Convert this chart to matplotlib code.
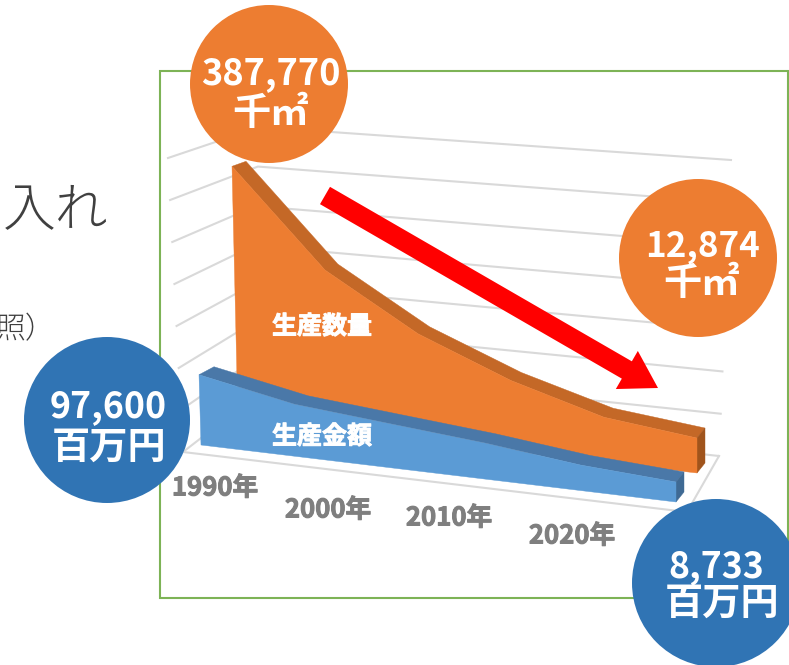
import numpy as np
import matplotlib
matplotlib.use("Agg")
import matplotlib.pyplot as plt
import matplotlib.patheffects as pe
from matplotlib.patches import Circle, Polygon, FancyArrow, Rectangle

plt.rcParams['font.family'] = ['Noto Sans CJK JP', 'DejaVu Sans']

# ---- data (on the drawn value axis) ----
points = [0, 1, 2, 3, 4, 5]
orange_values = [387770, 245200, 164000, 108800, 69000, 53600]
blue_values = [107300, 79700, 67400, 55200, 39100, 30650]
year_labels = ['1990年', '2000年', '2010年', '2020年']
orange_name = '生産数量'
blue_name = '生産金額'
callout_numbers = ['387,770', '12,874', '97,600', '8,733']
callout_units = ['千㎡', '千㎡', '百万円', '百万円']

# ---- colours ----
ORANGE, ORANGE_TOP, ORANGE_SIDE = '#ED7D31', '#C46827', '#A0541C'
BLUE, BLUE_TOP, BLUE_SIDE = '#5B9BD5', '#4A78A8', '#3F6A94'
CIRCLE_BLUE = '#3074B4'
GRID = '#D9D9D9'

fig = plt.figure(figsize=(7.89, 6.65), dpi=100)
ax = fig.add_axes([0, 0, 1, 1])
ax.set_xlim(0, 789)
ax.set_ylim(665, 0)
ax.axis('off')

# frame
ax.add_patch(Rectangle((160, 71), 628, 527, fill=False, ec='#7DB356', lw=1.5, zorder=1))

# wall / floor gridlines
LEVELS = 8
outer = np.column_stack([np.linspace(183, 168, LEVELS), np.linspace(452, 158, LEVELS)])
inner = np.column_stack([np.linspace(245, 260, LEVELS), np.linspace(404, 127, LEVELS)])
right = np.column_stack([np.linspace(719, 731, LEVELS), np.linspace(456, 160, LEVELS)])
for a, b, c in zip(outer, inner, right):
    ax.plot([a[0], b[0], c[0]], [a[1], b[1], c[1]], color=GRID, lw=1.5, zorder=2,
            solid_joinstyle='miter')
ax.plot([183, 687, 719], [452, 512, 456], color=GRID, lw=1.5, zorder=2)

PX_PER_UNIT = 253 / 387770


def draw_series(values, top_x, base_x, base_y, off0, off1, front, top, side, z):
    t = np.asarray(points, float) / points[-1]
    v = np.asarray(values, float)
    x_top = top_x[0] + (top_x[1] - top_x[0]) * t
    bx = base_x[0] + (base_x[1] - base_x[0]) * t
    by = base_y[0] + (base_y[1] - base_y[0]) * t
    y_top = (base_y[0] + (base_y[1] - base_y[0]) * (x_top - base_x[0]) / (base_x[1] - base_x[0])
             - v * PX_PER_UNIT)
    dx = off0[0] + (off1[0] - off0[0]) * t
    dy = off0[1] + (off1[1] - off0[1]) * t
    # top ribbon
    ribbon = np.r_[np.column_stack([x_top, y_top]),
                   np.column_stack([x_top + dx, y_top + dy])[::-1]]
    ax.add_patch(Polygon(ribbon, closed=True, fc=top, ec=top, lw=0.3, zorder=z))
    # right side
    side_poly = [(x_top[-1], y_top[-1]), (x_top[-1] + dx[-1], y_top[-1] + dy[-1]),
                 (bx[-1] + dx[-1], by[-1] + dy[-1]), (bx[-1], by[-1])]
    ax.add_patch(Polygon(side_poly, closed=True, fc=side, ec=side, lw=0.3, zorder=z))
    # front face
    face = np.r_[np.column_stack([x_top, y_top]),
                 [(bx[-1], by[-1]), (bx[0], by[0])]]
    ax.add_patch(Polygon(face, closed=True, fc=front, ec=front, lw=0.3, zorder=z + 0.1))


draw_series(orange_values, (232, 697), (238, 697), (420, 473), (14, -5), (8, -10),
            ORANGE, ORANGE_TOP, ORANGE_SIDE, 3)
draw_series(blue_values, (199, 676), (201, 676), (445, 502), (15, -8), (8, -10),
            BLUE, BLUE_TOP, BLUE_SIDE, 4)

# series names
white_stroke = [pe.withStroke(linewidth=0.7, foreground='white')]
ax.text(322, 327, orange_name, color='white', fontsize=18, fontweight='bold',
        ha='center', va='center', zorder=6, path_effects=white_stroke)
ax.text(322, 437, blue_name, color='white', fontsize=18, fontweight='bold',
        ha='center', va='center', zorder=6, path_effects=white_stroke)

# category labels
gray_stroke = [pe.withStroke(linewidth=0.7, foreground='#7F7F7F')]
label_xy = [(215, 488), (328, 510), (449, 518), (572, 536)]
for (lx, ly), s in zip(label_xy, year_labels):
    ax.text(lx, ly, s, color='#7F7F7F', fontsize=18.5, fontweight='bold',
            ha='center', va='center', zorder=5, path_effects=gray_stroke)

# red arrow
ax.add_patch(FancyArrow(325, 195.5, 333, 192.5, width=20, head_width=44, head_length=36,
                        length_includes_head=True, fc='#FF0000', ec='none', zorder=7))

# callouts: circle, then number and unit lines
callouts = [((269, 84), 79, ORANGE), ((698, 258), 79, ORANGE),
            ((107, 420), 83, CIRCLE_BLUE), ((716, 583), 84, CIRCLE_BLUE)]
number_xy = [(271, 74), (703, 247), (108, 407), (716, 567)]
unit_xy = [(271, 113), (702, 283), (109, 447), (722, 603)]
number_size = [26, 25.2, 25.7, 25.7]
for (c, r, col), num, unit, nxy, uxy, ns in zip(callouts, callout_numbers, callout_units,
                                               number_xy, unit_xy, number_size):
    ax.add_patch(Circle(c, r, fc=col, ec='none', zorder=8))
    ax.text(nxy[0], nxy[1], num, color='white', fontsize=ns, fontweight='bold',
            ha='center', va='center', zorder=9)
    ax.text(uxy[0], uxy[1], unit, color='white', fontsize=27.5, fontweight='bold',
            ha='center', va='center', zorder=9)

# slide text remnants
ax.text(3, 211, '入れ', color='#404040', fontsize=38, fontweight='light',
        ha='left', va='center', zorder=1)
ax.text(-4, 330, '照）', color='#404040', fontsize=21.5, fontweight='light',
        ha='left', va='center', zorder=1)

fig.savefig('out.png', dpi=100)
